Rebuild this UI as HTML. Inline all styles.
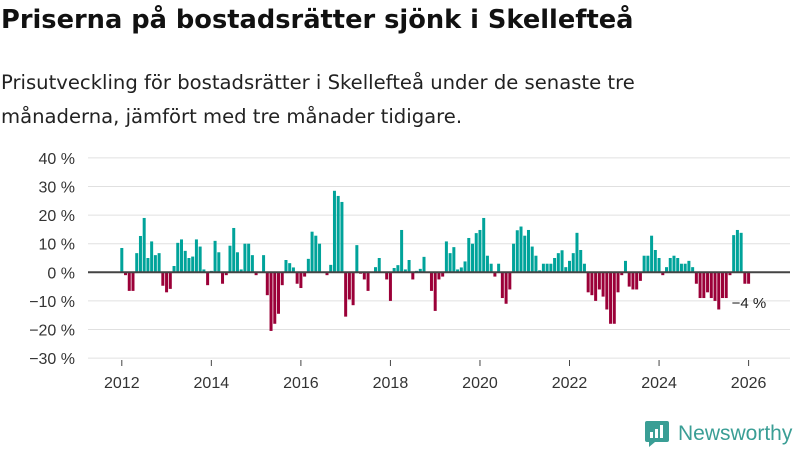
<!DOCTYPE html>
<html><head><meta charset="utf-8">
<style>
body{margin:0;width:800px;height:450px;background:#fff;font-family:"Liberation Sans",sans-serif;overflow:hidden;position:relative}
h1{position:absolute;left:1px;top:0px;margin:0;font-family:"DejaVu Sans",sans-serif;font-size:25.7px;line-height:40px;font-weight:bold;color:#111;white-space:nowrap}
p.sub{position:absolute;left:1px;top:66px;margin:0;font-family:"DejaVu Sans",sans-serif;font-size:19.6px;line-height:34px;color:#222;white-space:nowrap}
svg{position:absolute;left:0;top:0}
</style></head><body>
<h1>Priserna på bostadsrätter sjönk i Skellefteå</h1>
<p class="sub">Prisutveckling för bostadsrätter i Skellefteå under de senaste tre<br>månaderna, jämfört med tre månader tidigare.</p>
<svg id="chart" width="800" height="450"></svg>
<script>
const values = [8.5,-1,-6.5,-6.5,6.7,12.7,19,5,10.8,6,6.7,-4.7,-7,-5.8,2.2,10.3,11.5,7.5,5,5.5,11.5,9,1,-4.5,0.5,11,7,-4,-1,9.3,15.5,7,1,10,10,6,-1,0,6,-8,-20.5,-18,-14.5,
-4.5,4.3,3.2,1.7,-4,-5.5,-1.5,4.7,14.2,12.8,10,0,-1,2.6,28.5,26.7,24.6,-15.5,-9.5,-11.5,9.5,-0.5,-2.5,-6.5,0,1.8,5,0,-2.5,-10,1.5,2.5,14.8,1,4.3,-2.5,0.5,1.2,5.4,0,-6.5,-13.5,-2.5,-1.5,
10.8,6.7,8.8,1,1.7,3.8,12,10,13.7,14.8,19,5.8,3,-1.5,3,-9,-11,-6,10,14.7,16,12.8,14.8,9,5.8,0.7,3,3,3,5,6.7,7.7,1.8,4,6.7,13.8,7.8,3,-7,-8,-10,-6,-8.5,
-13,-18,-18,-7,-1,4,-5,-6,-6,-3,5.8,5.8,12.8,7.8,5,-1,1.8,5,5.8,5,3,3,4,1.8,-4,-9,-9,-7,-9,-10,-13,-9,-9,-1,13,14.8,13.8,-4,-4];
const yTicks = [40,30,20,10,0,-10,-20,-30];
const yearTicks = [2012,2014,2016,2018,2020,2022,2024,2026];
const startYear = 2012;
const lastLabel = "\u22124 %";

const NS="http://www.w3.org/2000/svg";
const svg=document.getElementById('chart');
const y=v=>272.3-v*2.86;
const step=(748.6-121.8)/168;
const x=i=>121.8+i*step;
const xYear=yr=>x((yr-startYear)*12);
function mk(t,a){const e=document.createElementNS(NS,t);for(const k in a)e.setAttribute(k,a[k]);svg.appendChild(e);return e;}
yTicks.forEach(t=>{
  if(t!==0){const g=mk('line',{x1:88,x2:790,y1:y(t),y2:y(t),stroke:'#e0e0e0','stroke-width':1});
  
  }
  const l=mk('text',{x:75,y:y(t)+6,'text-anchor':'end','font-size':16,fill:'#333','font-family':'Liberation Sans, sans-serif'});
  l.textContent=(t<0?'\u2212'+(-t):t)+' %';
  
  
});
values.forEach((v,i)=>{
  const r=mk('rect',{x:x(i)-1.5,width:3,y:v>=0?y(v):y(0),height:Math.abs(y(v)-y(0)),fill:v>=0?'#00a39a':'#9b0038'});
  
  
});
const z=mk('line',{x1:88,x2:790,y1:y(0),y2:y(0),stroke:'#444','stroke-width':2});


yearTicks.forEach(yr=>{
  const tk=mk('line',{x1:xYear(yr),x2:xYear(yr),y1:360,y2:366,stroke:'#444','stroke-width':1});
  
  
  const l=mk('text',{x:xYear(yr),y:388,'text-anchor':'middle','font-size':16,fill:'#333','font-family':'Liberation Sans, sans-serif'});
  l.textContent=yr;
  
  
});
const ll=mk('text',{x:x(values.length-1)-17,y:308,'font-size':15,fill:'#222','font-family':'Liberation Sans, sans-serif'});
ll.textContent=lastLabel;


</script>
<div style="position:absolute;left:645px;top:420px;display:flex;align-items:center">
<svg width="24" height="27" style="position:static"><path d="M2 1h20a2 2 0 0 1 2 2v17a2 2 0 0 1-2 2H10l-6 5v-5H2a2 2 0 0 1-2-2V3a2 2 0 0 1 2-2z" fill="#3a9e95"/><rect x="5" y="12" width="3" height="6" fill="#fff"/><rect x="10" y="9" width="3" height="9" fill="#fff"/><rect x="15" y="5" width="3" height="13" fill="#fff"/></svg>
<span style="margin-left:9px;font-size:21px;color:#3a9e95;font-weight:500">Newsworthy</span>
</div>
</body></html>
